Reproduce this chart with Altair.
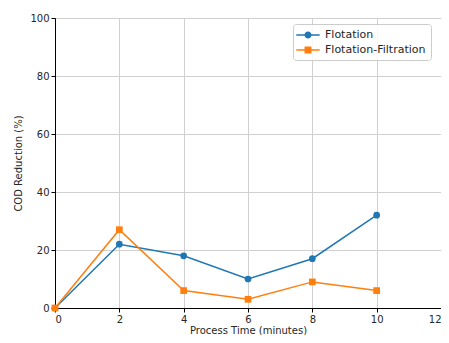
import altair as alt
import pandas as pd

time_min = [0, 2, 4, 6, 8, 10]
flotation = [0, 22, 18, 10, 17, 32]
flotation_filtration = [0, 27, 6, 3, 9, 6]
series_names = ["Flotation", "Flotation-Filtration"]
series_colors = ["#1f77b4", "#ff7f0e"]
x_ticks = [0, 2, 4, 6, 8, 10, 12]
y_ticks = [0, 20, 40, 60, 80, 100]

records = []
for name, values in zip(series_names, [flotation, flotation_filtration]):
    for t, v in zip(time_min, values):
        records.append({"time": t, "reduction": v, "series": name})
df = pd.DataFrame(records)

# legend glyphs: short line with marker (unit path scaled by sqrt(size)/2)
seg = "M-1.95,-0.125H1.95V0.125H-1.95Z"
circle_glyph = seg + " M0.58,0A0.58,0.58 0 1 1 -0.58,0A0.58,0.58 0 1 1 0.58,0Z"
square_glyph = seg + " M-0.58,-0.58H0.58V0.58H-0.58Z"

FONT = "DejaVu Sans"

legend = alt.Legend(
    title=None,
    orient="none",
    legendX=238,
    legendY=6,
    symbolSize=144,
    symbolStrokeWidth=0,
    symbolOpacity=1,
    symbolOffset=4,
    labelFont=FONT,
    labelFontSize=11,
    labelColor="#262626",
    labelOffset=11,
    padding=5,
    rowPadding=4,
    strokeColor="#cccccc",
    fillColor="rgba(255,255,255,0.85)",
    cornerRadius=3,
)

x_enc = alt.X(
    "time:Q",
    scale=alt.Scale(domain=[0, 12], nice=False),
    axis=alt.Axis(values=x_ticks, title="Process Time (minutes)", format="d"),
)
y_enc = alt.Y(
    "reduction:Q",
    scale=alt.Scale(domain=[0, 100], nice=False),
    axis=alt.Axis(values=y_ticks, title="COD Reduction (%)", format="d"),
)
color_enc = alt.Color(
    "series:N",
    scale=alt.Scale(domain=series_names, range=series_colors),
    legend=legend,
)

base = alt.Chart(df)

legend_layer = base.mark_point(filled=True, opacity=0).encode(
    x=x_enc,
    y=y_enc,
    color=color_enc,
    shape=alt.Shape(
        "series:N",
        scale=alt.Scale(domain=series_names, range=[circle_glyph, square_glyph]),
        legend=legend,
    ),
)
lines = base.mark_line(strokeWidth=1.5).encode(x=x_enc, y=y_enc, color=color_enc)
circles = (
    base.transform_filter(alt.datum.series == series_names[0])
    .mark_point(filled=True, size=45, opacity=1, shape="circle")
    .encode(x=x_enc, y=y_enc, color=color_enc)
)
squares = (
    base.transform_filter(alt.datum.series == series_names[1])
    .mark_point(filled=True, size=45, opacity=1, shape="square")
    .encode(x=x_enc, y=y_enc, color=color_enc)
)

chart = (
    alt.layer(legend_layer, lines, circles, squares)
    .properties(
        width=386,
        height=290,
        autosize=alt.AutoSizeParams(type="none"),
        padding={"left": 47, "top": 10, "right": 0, "bottom": 27},
        background="white",
    )
    .configure_view(stroke="black", strokeWidth=1)
    .configure_axis(
        labelFont=FONT,
        titleFont=FONT,
        labelFontSize=10,
        titleFontSize=10,
        titleFontWeight="normal",
        labelColor="#262626",
        titleColor="#262626",
        domainColor="black",
        tickColor="black",
        tickSize=4,
        labelPadding=2,
        gridColor="#d0d0d0",
        gridWidth=1,
    )
    .configure_axisX(titlePadding=1)
    .configure_axisY(titlePadding=6)
)

chart.save("out.html", embed_options={"renderer": "svg", "actions": False})
